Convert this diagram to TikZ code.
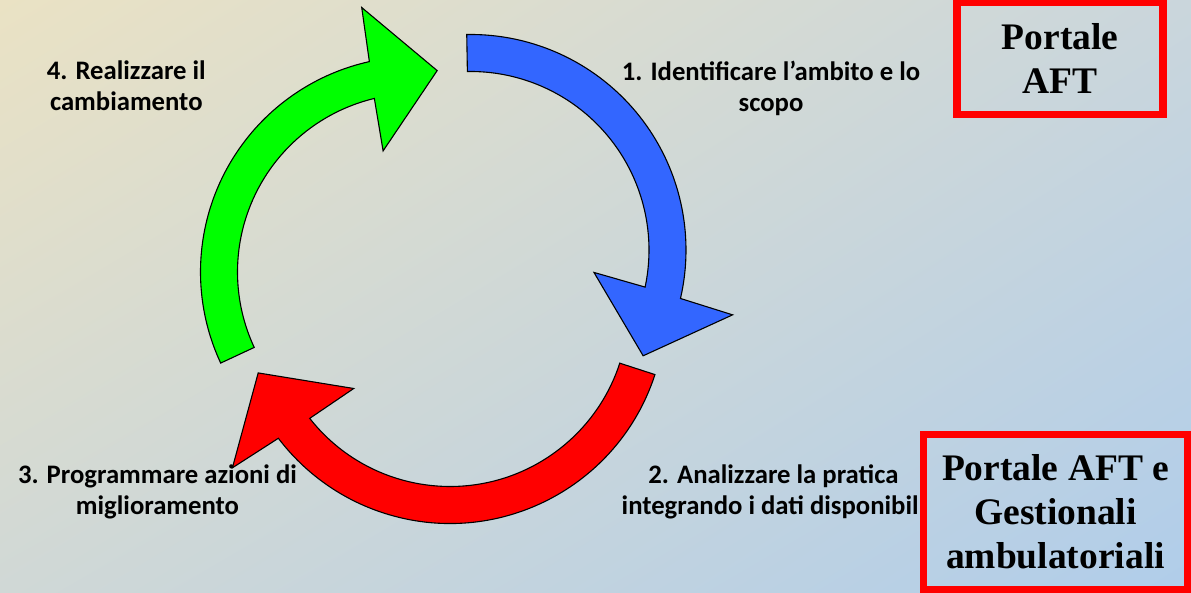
\documentclass[tikz,border=0pt]{standalone}
\usepackage{fontspec}
\usetikzlibrary{shadings}
\newfontfamily\labfont{Carlito}
\newfontfamily\boxfont{Liberation Serif}
\definecolor{bgUL}{RGB}{234,226,196}
\definecolor{bgUR}{RGB}{202,214,220}
\definecolor{bgLL}{RGB}{208,216,214}
\definecolor{bgLR}{RGB}{176,205,234}
\definecolor{arrBlue}{RGB}{51,102,255}
\definecolor{arrRed}{RGB}{255,0,0}
\definecolor{arrGreen}{RGB}{0,255,0}
\definecolor{boxRed}{RGB}{255,0,0}
\tikzset{
  arrowbody/.style={draw=black, line width=1.1pt, line join=miter},
  lab/.style={font=\labfont\bfseries\fontsize{26.7}{31}\selectfont, align=center, inner sep=0pt, text=black},
  portalbox/.style={draw=boxRed, rectangle, align=center, inner sep=0pt,
    font=\boxfont\bfseries\fontsize{37.5}{44}\selectfont, text=black}
}
% #1 centre, #2 tail angle, #3 head base angle, #4 fill colour
\newcommand\cyclearrow[4]{%
  \filldraw[arrowbody, fill=#4]
    ([shift={(#2:215.5)}]#1) arc[start angle=#2, end angle={#3-0.5}, radius=215.5]
    -- ([shift={({#3-1.4}:270)}]#1)
    -- ([shift={({#3-19}:202.5)}]#1)
    -- ([shift={({#3+2.2}:125.5)}]#1)
    -- ([shift={({#3+0.5}:178.5)}]#1)
    arc[start angle={#3+0.5}, end angle=#2, radius=178.5]
    -- cycle;
}
\begin{document}
\begin{tikzpicture}[x=1pt, y=1pt]
\useasboundingbox (0,0) rectangle (1191,593);
\shade[upper left=bgUL, upper right=bgUR, lower left=bgLL, lower right=bgLR] (0,0) rectangle (1191,593);

\coordinate (gc) at (416,321);
\coordinate (bc) at (470.5,343);
\coordinate (rc) at (450,285);

\cyclearrow{gc}{205}{103}{arrGreen}
\cyclearrow{bc}{91}{-12.5}{arrBlue}
\cyclearrow{rc}{-18}{-142.3}{arrRed}

\node[lab, anchor=base] (l4) at (126.3,482) {4. Realizzare il\\cambiamento};
\node[lab, anchor=base] (l1) at (771,481.5) {1. Identificare l’ambito e lo\\scopo};
\node[lab, anchor=base] (l2) at (773.4,78.8) {2. Analizzare la pratica\\integrando i dati disponibil\phantom{i}};
\node[lab, anchor=base] (l3) at (157.5,78) {3. Programmare azioni di\\miglioramento};

\node[portalbox, minimum width=206.1pt, minimum height=112pt, line width=7.7pt] (b1) at (1060.25,534.5) {Portale\\AFT};
\node[portalbox, minimum width=264pt, minimum height=155pt, line width=7pt] (b2) at (1055.5,81) {Portale AFT e\\Gestionali\\ambulatoriali};
\end{tikzpicture}
\end{document}
